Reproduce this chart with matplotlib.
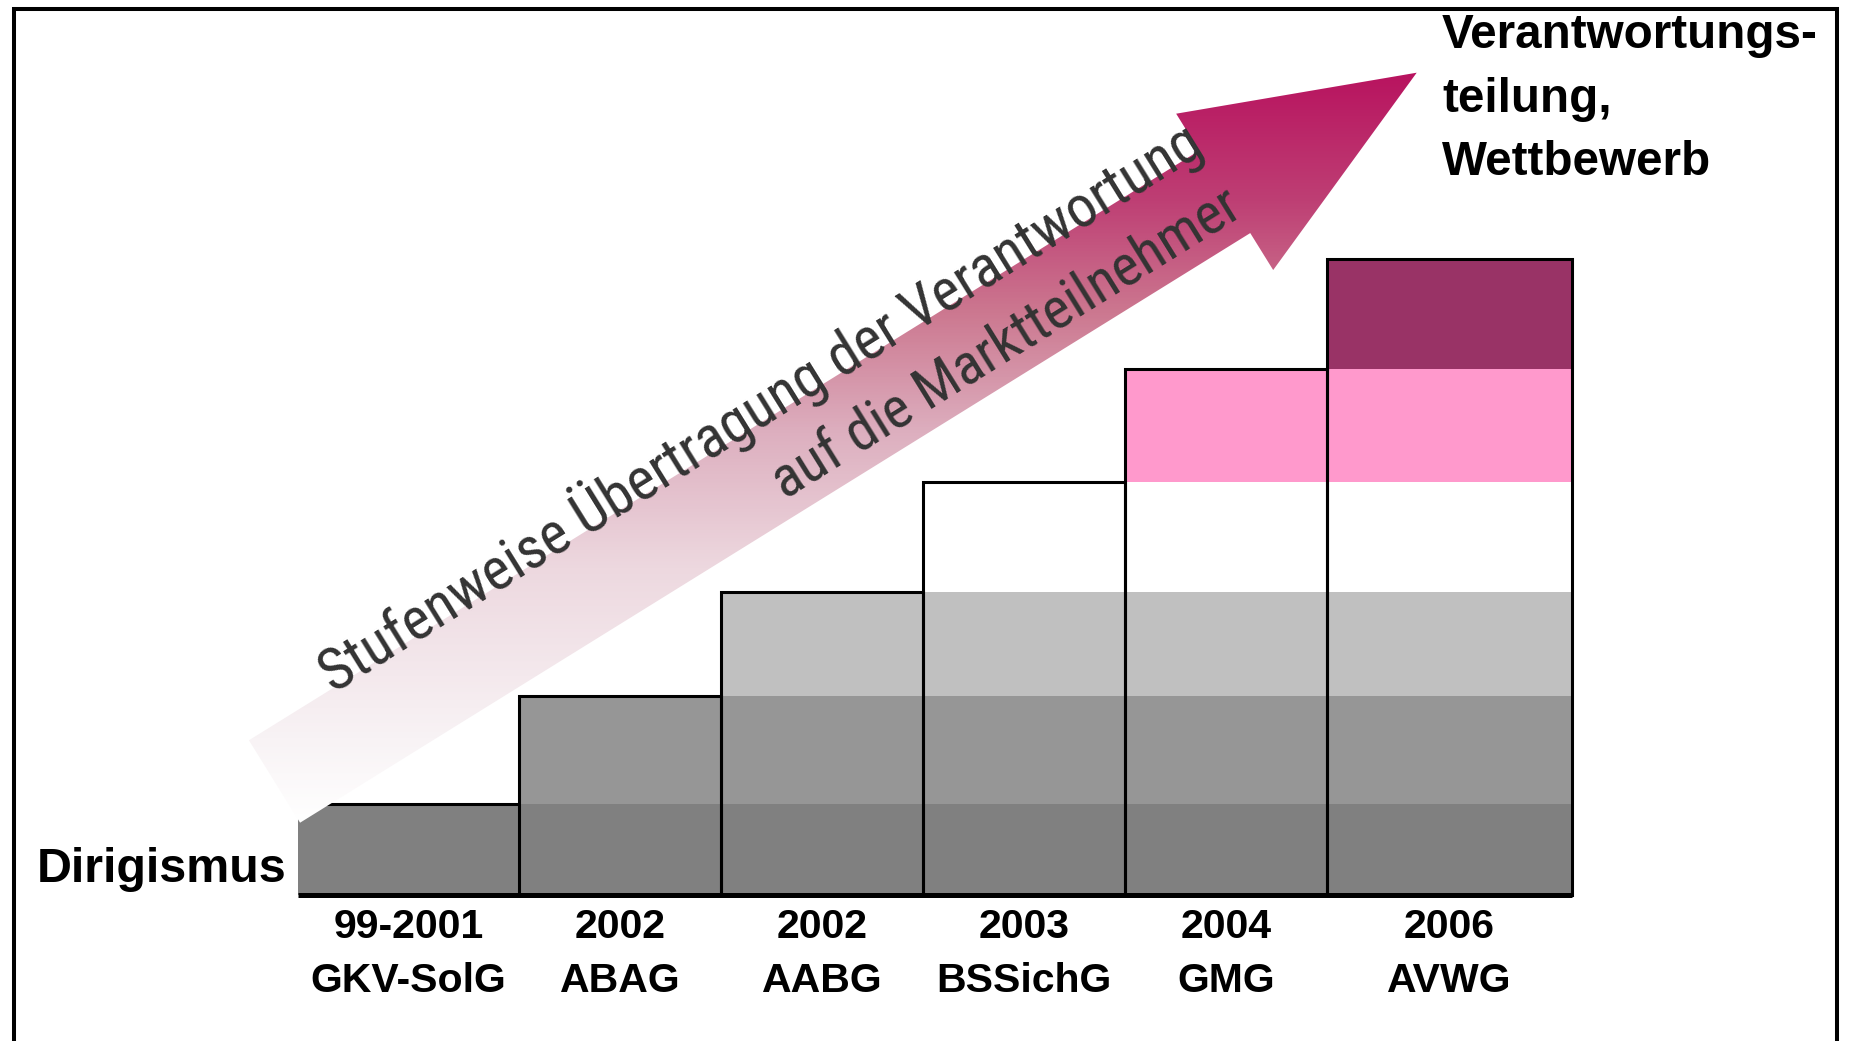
import matplotlib
matplotlib.use('Agg')
import matplotlib.pyplot as plt
import numpy as np
from matplotlib import font_manager
from matplotlib.colors import LinearSegmentedColormap
from matplotlib.patches import Polygon

# Daten
jahre = ['99-2001', '2002', '2002', '2003', '2004', '2006']
gesetze = ['GKV-SolG', 'ABAG', 'AABG', 'BSSichG', 'GMG', 'AVWG']
stufen = [1, 2, 3, 4, 5, 6]                       # Anzahl Stufen je Gesetz
stufen_hoehe = [91, 108, 104, 110, 113, 110]      # Hoehe jeder Stufe
stufen_farben = ['#808080', '#969696', '#c0c0c0', '#ffffff', '#ff99cc', '#993366']

pfeil_text_1 = 'Stufenweise Übertragung der Verantwortung'
pfeil_text_2 = 'auf die Marktteilnehmer'
links_text = 'Dirigismus'
rechts_text = ['Verantwortungs-', 'teilung,', 'Wettbewerb']

# Layout (Pixel)
W, H = 1850, 1041
balken_breite = [221, 202, 202, 202, 202, 245]
x0, y0 = 298, 895

# schmale Schrift fuer den Pfeiltext, falls vorhanden
namen = {f.name for f in font_manager.fontManager.ttflist}
schmal = next((n for n in ['Liberation Sans Narrow', 'Roboto Condensed', 'Open Sans Condensed']
               if n in namen), 'Liberation Sans')

fig = plt.figure(figsize=(W / 100, H / 100), dpi=100, facecolor='white')

# Treppe
gesamt = sum(stufen_hoehe)
breite = sum(balken_breite)
ax = fig.add_axes([x0 / W, (H - y0) / H, breite / W, gesamt / H])
ax.set_xlim(0, breite)
ax.set_ylim(0, gesamt)
ax.axis('off')

links = np.concatenate([[0], np.cumsum(balken_breite)[:-1]])
mitte = links + np.array(balken_breite) / 2
boden = np.concatenate([[0], np.cumsum(stufen_hoehe)[:-1]])
stufen_arr = np.array(stufen)
bw = np.array(balken_breite)

for j in range(max(stufen)):
    idx = stufen_arr > j
    ax.bar(links[idx], stufen_hoehe[j], width=bw[idx], bottom=boden[j], align='edge',
           color=stufen_farben[j], linewidth=0)

oben = np.cumsum(stufen_hoehe)[stufen_arr - 1]
ax.bar(links[1:], oben[1:], width=bw[1:], align='edge', fill=False,
       edgecolor='black', linewidth=2.2, clip_on=False)
ax.hlines(oben[0], links[0], links[1], color='black', lw=2.2)
ax.hlines(0, 0, breite, color='black', lw=3.6, clip_on=False)

for m, j, g in zip(mitte, jahre, gesetze):
    ax.text(m, -43, j, ha='center', va='baseline', fontsize=29.5, fontweight='bold',
            family='Liberation Sans')
    ax.text(m, -97, g, ha='center', va='baseline', fontsize=29.5, fontweight='bold',
            family='Liberation Sans')

# Ueberlagerung: Pfeil, Texte, Rahmen
ov = fig.add_axes([0, 0, 1, 1])

schwanz = np.array([274.5, 781.5])
spitze = np.array([1416.7, 72.7])
u = (spitze - schwanz) / np.linalg.norm(spitze - schwanz)
n = np.array([-u[1], u[0]])
sb, kb, kl = 97, 184, 226
basis = spitze - kl * u
pts = np.array([schwanz + sb / 2 * n, basis + sb / 2 * n, basis + kb / 2 * n, spitze,
                basis - kb / 2 * n, basis - sb / 2 * n, schwanz - sb / 2 * n])
poly = Polygon(pts, closed=True, facecolor='none', edgecolor='none')
ov.add_patch(poly)

cmap = LinearSegmentedColormap.from_list('pfeil', [
    (0.0, '#b8135f'), (0.17, '#be3f74'), (0.32, '#cc7890'), (0.48, '#ddafbf'),
    (0.66, '#edd8df'), (0.89, '#f8f3f5'), (1.0, '#ffffff')])
grad = np.linspace(0, 1, 512).reshape(-1, 1)
ymin, ymax = pts[:, 1].min(), pts[:, 1].max()
im = ov.imshow(grad, cmap=cmap, extent=(pts[:, 0].min(), pts[:, 0].max(), ymax, ymin),
               origin='upper', aspect='auto', zorder=1)
im.set_clip_path(poly)

winkel = np.degrees(np.arctan2(-u[1], u[0]))
ov.text(333, 693, pfeil_text_1, rotation=winkel, rotation_mode='anchor', ha='left',
        va='baseline', fontsize=42.3, color='#333333', family=schmal, zorder=3)
ov.text(785, 500, pfeil_text_2, rotation=winkel, rotation_mode='anchor', ha='left',
        va='baseline', fontsize=41.5, color='#333333', family=schmal, zorder=3)

ov.text(286, 882, links_text, ha='right', va='baseline', fontsize=34.8, fontweight='bold',
        family='Liberation Sans')
for zeile, yb in zip(rechts_text, [48.3, 111.5, 175]):
    ov.text(1442, yb, zeile, ha='left', va='baseline', fontsize=34.3, fontweight='bold',
            family='Liberation Sans')

ov.plot([14, 14, 1837, 1837], [H + 5, 8.7, 8.7, H + 5], color='black', lw=2.9,
        solid_joinstyle='miter')

ov.set_xlim(0, W)
ov.set_ylim(H, 0)
ov.axis('off')

fig.savefig('out.png', dpi=100, facecolor='white')
